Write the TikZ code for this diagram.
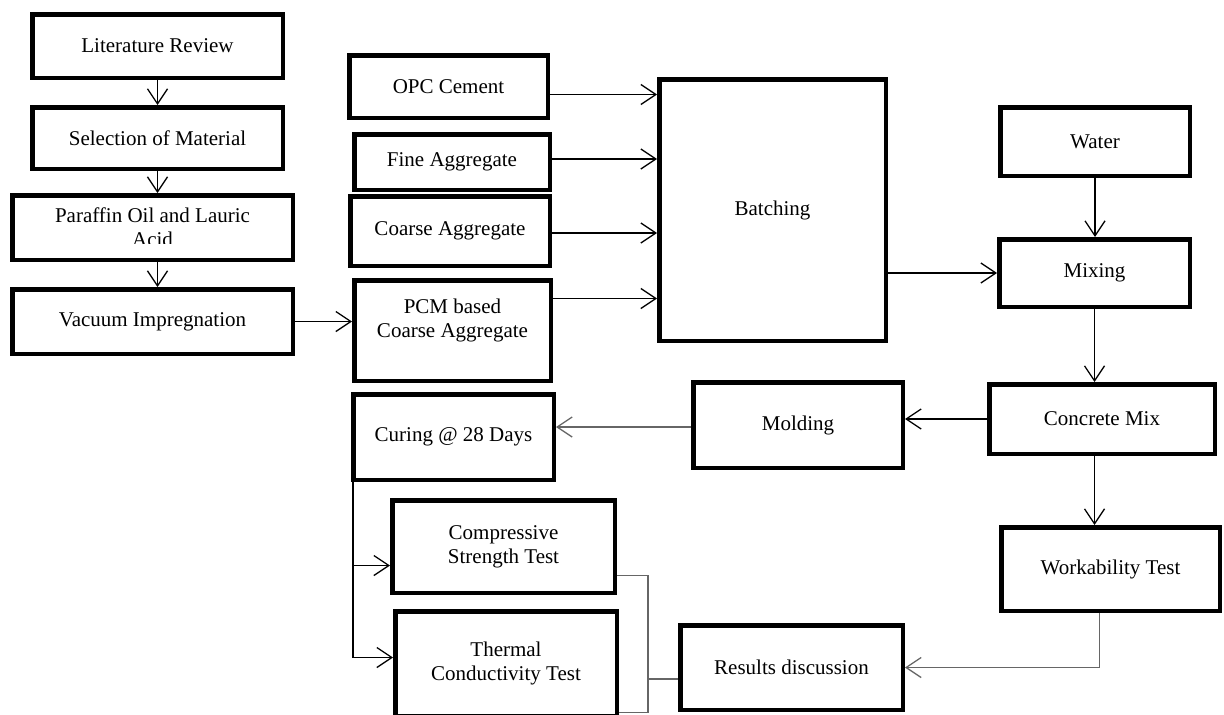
\documentclass[tikz,border=0pt]{standalone}
\usepackage{fontspec}
\setmainfont{Liberation Serif}
\usetikzlibrary{positioning}
\usetikzlibrary{arrows.meta}
\tikzset{box/.style = {draw, line width = 4.5pt, inner sep = 0, align = center, font = \fontsize{21}{24}\selectfont}}
\tikzset{arr/.style = {-{Straight Barb[length=15pt,width=20pt]}, line width = 1.3pt}}
\tikzset{link/.style = {line width = 1.3pt, black!60}}

\begin{document}
\begin{tikzpicture}[x=1pt, y=-1pt]
    \useasboundingbox (0,0) rectangle (1224,715);
    \foreach \n/\xa/\ya/\xb/\yb/\t in {
        lit/30/12/285/80/Literature Review,
        sel/30/105/285/171/Selection of Material,
        par/10/193/295/262/{},
        vac/10/287/295/356/Vacuum Impregnation,
        opc/347/53/550/120/OPC Cement,
        fin/352/132/552/192/Fine Aggregate,
        coa/348/194/552/268/Coarse Aggregate,
        pcm/352/278/553/383/{PCM based\\Coarse Aggregate\\~},
        cur/351/392/556/482/Curing @ 28 Days,
        cmp/390/498/617/595/{Compressive\\Strength Test},
        thm/393/609/619/718/{Thermal\\Conductivity Test},
        bat/657/77/888/343/Batching,
        wat/998/105/1192/178/Water,
        mix/997/237/1192/309/Mixing,
        con/987/382/1217/456/Concrete Mix,
        mol/691/380/905/470/Molding,
        wor/999/525/1222/613/Workability Test,
        res/678/623/905/712/Results discussion} {
        \node[box, minimum width = {\xb-\xa-4.5}, minimum height = {\yb-\ya-4.5}]
            (\n) at ({(\xa+\xb)/2},{(\ya+\yb)/2}) {\t};
    }
    % text runs out of the box
    \begin{scope}
        \clip (10,193) rectangle (295,243);
        \node[box, draw = none] (partxt) at (par) {Paraffin Oil and Lauric\\Acid};
    \end{scope}
    \draw[arr] (lit.south) -- (sel.north);
    \draw[arr] (sel.south) -- (sel.south |- par.north);
    \draw[arr] (sel.south |- par.south) -- (sel.south |- vac.north);
    \draw[arr] (vac.east) -- (vac.east -| pcm.west);
    \draw[arr] ([yshift=-8pt]opc.east) -- ([yshift=-8pt]opc.east -| bat.west);
    \draw[arr] ([yshift=3pt]fin.east) -- ([yshift=3pt]fin.east -| bat.west);
    \draw[arr] ([yshift=-2pt]coa.east) -- ([yshift=-2pt]coa.east -| bat.west);
    \draw[arr] ([yshift=32pt]pcm.east) -- ([yshift=32pt]pcm.east -| bat.west);
    \draw[arr] (bat.east |- mix.west) -- (mix.west);
    \draw[arr] (wat.south) -- (wat.south |- mix.north);
    \draw[arr] (mix.south) -- (mix.south |- con.north);
    \draw[arr] (mix.south |- con.south) -- (mix.south |- wor.north);
    \draw[arr] (con.west) -- (con.west -| mol.east);
    \draw[arr, link] ([yshift=-2pt]mol.west) -- ([yshift=-2pt]mol.west -| cur.east);
    \draw[arr] ([xshift=2pt]cur.south west) |- ([yshift=-19pt]cmp.west);
    \draw[arr] ([xshift=2pt]cur.south west) |- ([yshift=6pt]thm.west);
    \coordinate (jn) at (648,679);
    \draw[link] ([yshift=-29pt]cmp.east) -| (jn) |- ([yshift=-49pt]thm.east);
    \draw[link] (jn) -- (jn -| res.west);
    \draw[arr, link] ([xshift=-11pt]wor.south) |- (res.east);
\end{tikzpicture}
\end{document}
